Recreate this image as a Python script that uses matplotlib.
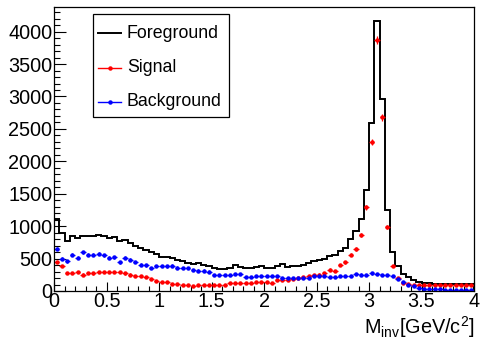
import numpy as np
import matplotlib
matplotlib.use('Agg')
import matplotlib.pyplot as plt
from matplotlib.lines import Line2D
from matplotlib.patches import Rectangle
from matplotlib.ticker import MultipleLocator

plt.rcParams['font.family'] = ['Liberation Sans', 'DejaVu Sans']

# invariant mass binning: 80 bins from 0 to 4 GeV/c^2
bin_edges = np.linspace(0, 4, 81)

foreground = [1110, 890, 770, 850, 810, 855, 845, 845, 870, 855,
              820, 830, 775, 790, 745, 700, 665, 630, 600, 565,
              530, 522, 505, 485, 468, 435, 410, 430, 400, 385,
              350, 335, 335, 360, 395, 365, 348, 355, 365, 385,
              357, 357, 380, 420, 368, 380, 382, 408, 433, 469,
              485, 500, 536, 550, 620, 665, 795, 932, 1112, 1551,
              2597, 4166, 2957, 1248, 600, 380, 265, 213, 175, 145,
              125, 118, 115, 112, 110, 110, 108, 108, 108, 110]

signal = [449, 382, 280, 280, 290, 254, 280, 270, 290, 290,
          290, 295, 290, 270, 254, 238, 238, 218, 192, 151,
          141, 141, 110, 110, 100, 100, 74, 92, 92, 92,
          100, 100, 100, 126, 126, 126, 118, 118, 141, 141,
          141, 126, 162, 177, 177, 190, 203, 210, 228, 240,
          254, 280, 331, 305, 400, 440, 562, 650, 870, 1290,
          2300, 3870, 2680, 985, 382, 205, 130, 110, 100, 95,
          92, 90, 90, 88, 88, 88, 87, 87, 87, 88]

background = [654, 500, 459, 562, 510, 597, 562, 562, 577, 551,
              515, 520, 443, 510, 485, 449, 408, 397, 357, 382,
              382, 380, 390, 360, 357, 355, 320, 316, 316, 300,
              250, 243, 243, 240, 264, 260, 215, 213, 228, 228,
              228, 228, 225, 205, 203, 200, 203, 203, 205, 228,
              228, 228, 213, 213, 228, 228, 230, 262, 254, 250,
              270, 262, 250, 240, 225, 188, 145, 100, 72, 50,
              35, 28, 25, 24, 22, 22, 21, 20, 20, 20]

labels = ['Foreground', 'Signal', 'Background']
colors = ['black', 'red', 'blue']

centers = 0.5 * (bin_edges[:-1] + bin_edges[1:])
half_width = 0.5 * (bin_edges[1] - bin_edges[0])
signal = np.array(signal, dtype=float)
background = np.array(background, dtype=float)

fig = plt.figure(figsize=(4.8, 3.39), dpi=100)
ax = fig.add_axes([54 / 480, 1 - 291 / 339, 420 / 480, 284 / 339])

ax.stairs(foreground, bin_edges, color=colors[0], lw=1.4, baseline=0)
ax.errorbar(centers, signal, xerr=half_width, yerr=np.sqrt(signal),
            fmt='o', ms=2.2, color=colors[1], elinewidth=0.9, capsize=0)
ax.errorbar(centers, background, xerr=half_width, yerr=np.sqrt(background),
            fmt='o', ms=2.2, color=colors[2], elinewidth=0.9, capsize=0)

ax.set_xlim(0, 4)
ax.set_ylim(0, 4380)
ax.xaxis.set_major_locator(MultipleLocator(0.5))
ax.xaxis.set_minor_locator(MultipleLocator(0.1))
ax.yaxis.set_major_locator(MultipleLocator(500))
ax.yaxis.set_minor_locator(MultipleLocator(100))
ax.set_xticks(np.arange(0, 4.01, 0.5))
ax.set_xticklabels(['0', '0.5', '1', '1.5', '2', '2.5', '3', '3.5', '4'])

ax.tick_params(axis='both', which='both', direction='in', top=False,
               right=False, width=0.8, labelsize=14.3)
ax.tick_params(axis='x', which='major', length=6.5, pad=1)
ax.tick_params(axis='x', which='minor', length=3.3)
ax.tick_params(axis='y', which='major', length=8.6, pad=1.2)
ax.tick_params(axis='y', which='minor', length=4.3)
for sp in ax.spines.values():
    sp.set_linewidth(0.9)

ax.set_xlabel(r'$\mathregular{M_{inv}[GeV/c^{2}]}$', fontsize=14.3,
              loc='right', labelpad=2)

# legend box, ROOT TLegend style (placed in axes fraction)
def ax_x(px):
    return (px - 54) / 420


def ax_y(py):
    return (291 - py) / 284


ax.add_patch(Rectangle((ax_x(93), ax_y(117)), ax_x(229) - ax_x(93),
                       ax_y(14) - ax_y(117), transform=ax.transAxes,
                       fill=True, facecolor='white', edgecolor='black',
                       lw=0.9, zorder=5))
for row_y, lab, col in zip([33, 68, 102], labels, colors):
    yy = ax_y(row_y)
    ax.add_line(Line2D([ax_x(98), ax_x(121)], [yy, yy], color=col,
                       lw=1.4 if col == 'black' else 1.0,
                       transform=ax.transAxes, zorder=6))
    if col != 'black':
        ax.add_line(Line2D([ax_x(109.5)], [yy], color=col, marker='o',
                           ms=2.2, transform=ax.transAxes, zorder=6))
    ax.text(ax_x(127), yy, lab, transform=ax.transAxes, fontsize=12.8,
            va='center', ha='left', zorder=7)

fig.savefig('out.png', dpi=100)
